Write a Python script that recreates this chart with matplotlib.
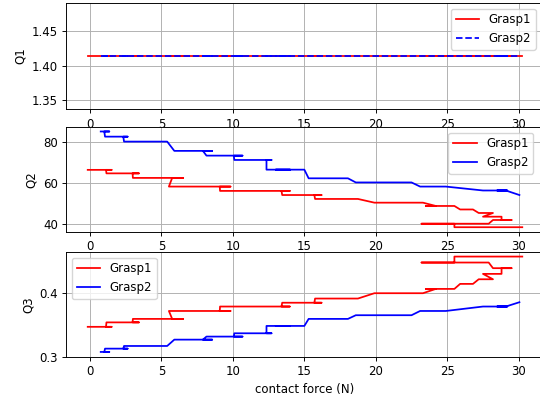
import matplotlib
matplotlib.use("Agg")
import matplotlib.pyplot as plt
from matplotlib.ticker import MultipleLocator

# grasp 1 (red): contact force and quality measures along the path
force_g1 = [-0.16, 1.51, 1.12, 1.15, 3.42, 2.98, 3.0, 6.52, 5.75, 5.52,
            9.83, 9.08, 9.1, 13.98, 13.4, 13.45, 16.2, 15.7, 15.75, 18.75,
            19.9, 23.3, 24.2, 23.5, 25.5, 25.9, 26.8, 27.2, 28.2, 27.5,
            28.8, 28.8, 29.5, 28.2, 27.9, 23.2, 25.5, 25.5, 30.25]
q2_g1 = [66.3, 66.3, 66.3, 64.6, 64.6, 64.6, 62.4, 62.4, 62.4, 58.2,
         58.2, 58.2, 56.1, 56.1, 56.1, 54.1, 54.1, 54.1, 52.2, 52.2,
         50.4, 50.4, 48.8, 48.8, 48.8, 47.1, 47.1, 45.4, 45.4, 43.6,
         43.6, 42.0, 42.0, 42.0, 40.2, 40.2, 40.2, 38.5, 38.5]
q3_g1 = [0.347, 0.347, 0.347, 0.354, 0.354, 0.354, 0.3595, 0.3595, 0.3595, 0.372,
         0.372, 0.372, 0.379, 0.379, 0.379, 0.385, 0.385, 0.385, 0.3916, 0.3916,
         0.400, 0.400, 0.4068, 0.4068, 0.4068, 0.4147, 0.4147, 0.422, 0.422, 0.4305,
         0.4305, 0.4395, 0.4395, 0.4395, 0.4484, 0.4484, 0.4484, 0.4578, 0.4578]

# grasp 2 (blue)
force_g2 = [0.75, 1.35, 1.0, 1.05, 2.63, 2.33, 2.38, 5.4, 5.9, 8.55,
            7.9, 8.15, 10.67, 10.06, 10.1, 12.7, 12.35, 12.35, 14.0, 13.0,
            15.0, 15.3, 18.05, 18.6, 22.5, 23.1, 24.9, 27.5, 29.2, 28.5,
            29.1, 30.05]
q2_g2 = [84.9, 84.9, 84.9, 82.4, 82.4, 82.4, 80.0, 80.0, 75.5, 75.5,
         75.5, 73.2, 73.2, 73.2, 71.1, 71.1, 71.1, 66.4, 66.4, 66.4,
         66.4, 62.2, 62.2, 60.2, 60.2, 58.2, 58.2, 56.3, 56.3, 56.3,
         56.3, 54.1]
q3_g2 = [0.3074, 0.3074, 0.3074, 0.3126, 0.3126, 0.3126, 0.3168, 0.3168, 0.3268, 0.3268,
         0.3268, 0.3316, 0.3316, 0.3316, 0.3368, 0.3368, 0.3368, 0.3484, 0.3484, 0.3484,
         0.3484, 0.3595, 0.3595, 0.3653, 0.3653, 0.372, 0.372, 0.379, 0.379, 0.379,
         0.379, 0.3858]

# Q1 is constant for both grasps
q1_value = 1.4142
q1_g1 = [q1_value] * len(force_g1)
q1_g2 = [q1_value] * len(force_g2)

s = 0.844  # picture is a 640x480 figure shrunk to 540x404
plt.rcParams.update({
    "font.size": 10 * s,
    "lines.linewidth": 1.5 * s,
    "axes.linewidth": 0.8 * s,
    "grid.linewidth": 0.8 * s,
    "xtick.major.size": 3.5 * s,
    "ytick.major.size": 3.5 * s,
    "xtick.major.width": 0.8 * s,
    "ytick.major.width": 0.8 * s,
    "xtick.major.pad": 3.5 * s,
    "ytick.major.pad": 3.5 * s,
    "axes.labelpad": 4.0 * s,
})

W, H = 540, 404
fig = plt.figure(figsize=(W / 100, H / 100), dpi=100)


def add_ax(left, right, top, bottom):
    return fig.add_axes([left / W, 1 - bottom / H, (right - left) / W, (bottom - top) / H])


ax1 = add_ax(66, 544, 2.7, 109.3)
ax2 = add_ax(66, 544, 126.7, 232)
ax3 = add_ax(66, 544, 251.8, 356.7)

ax1.plot(force_g1, q1_g1, color="red", label="Grasp1")
ax1.plot(force_g2, q1_g2, color="blue", linestyle="--", label="Grasp2")
ax1.set_ylabel("Q1")
ax1.grid(True)
ax1.legend(loc="upper right", bbox_to_anchor=(0.995, 1))

ax2.plot(force_g1, q2_g1, color="red", label="Grasp1")
ax2.plot(force_g2, q2_g2, color="blue", label="Grasp2")
ax2.set_ylabel("Q2")
ax2.grid(True)
ax2.legend(loc="upper right", bbox_to_anchor=(0.9895, 1))

ax3.plot(force_g1, q3_g1, color="red", label="Grasp1")
ax3.plot(force_g2, q3_g2, color="blue", label="Grasp2")
ax3.yaxis.set_major_locator(MultipleLocator(0.1))
ax3.set_ylabel("Q3")
ax3.set_xlabel("contact force (N)")
ax3.grid(True)
ax3.legend(loc="upper left")

fig.savefig("out.png", dpi=100)
